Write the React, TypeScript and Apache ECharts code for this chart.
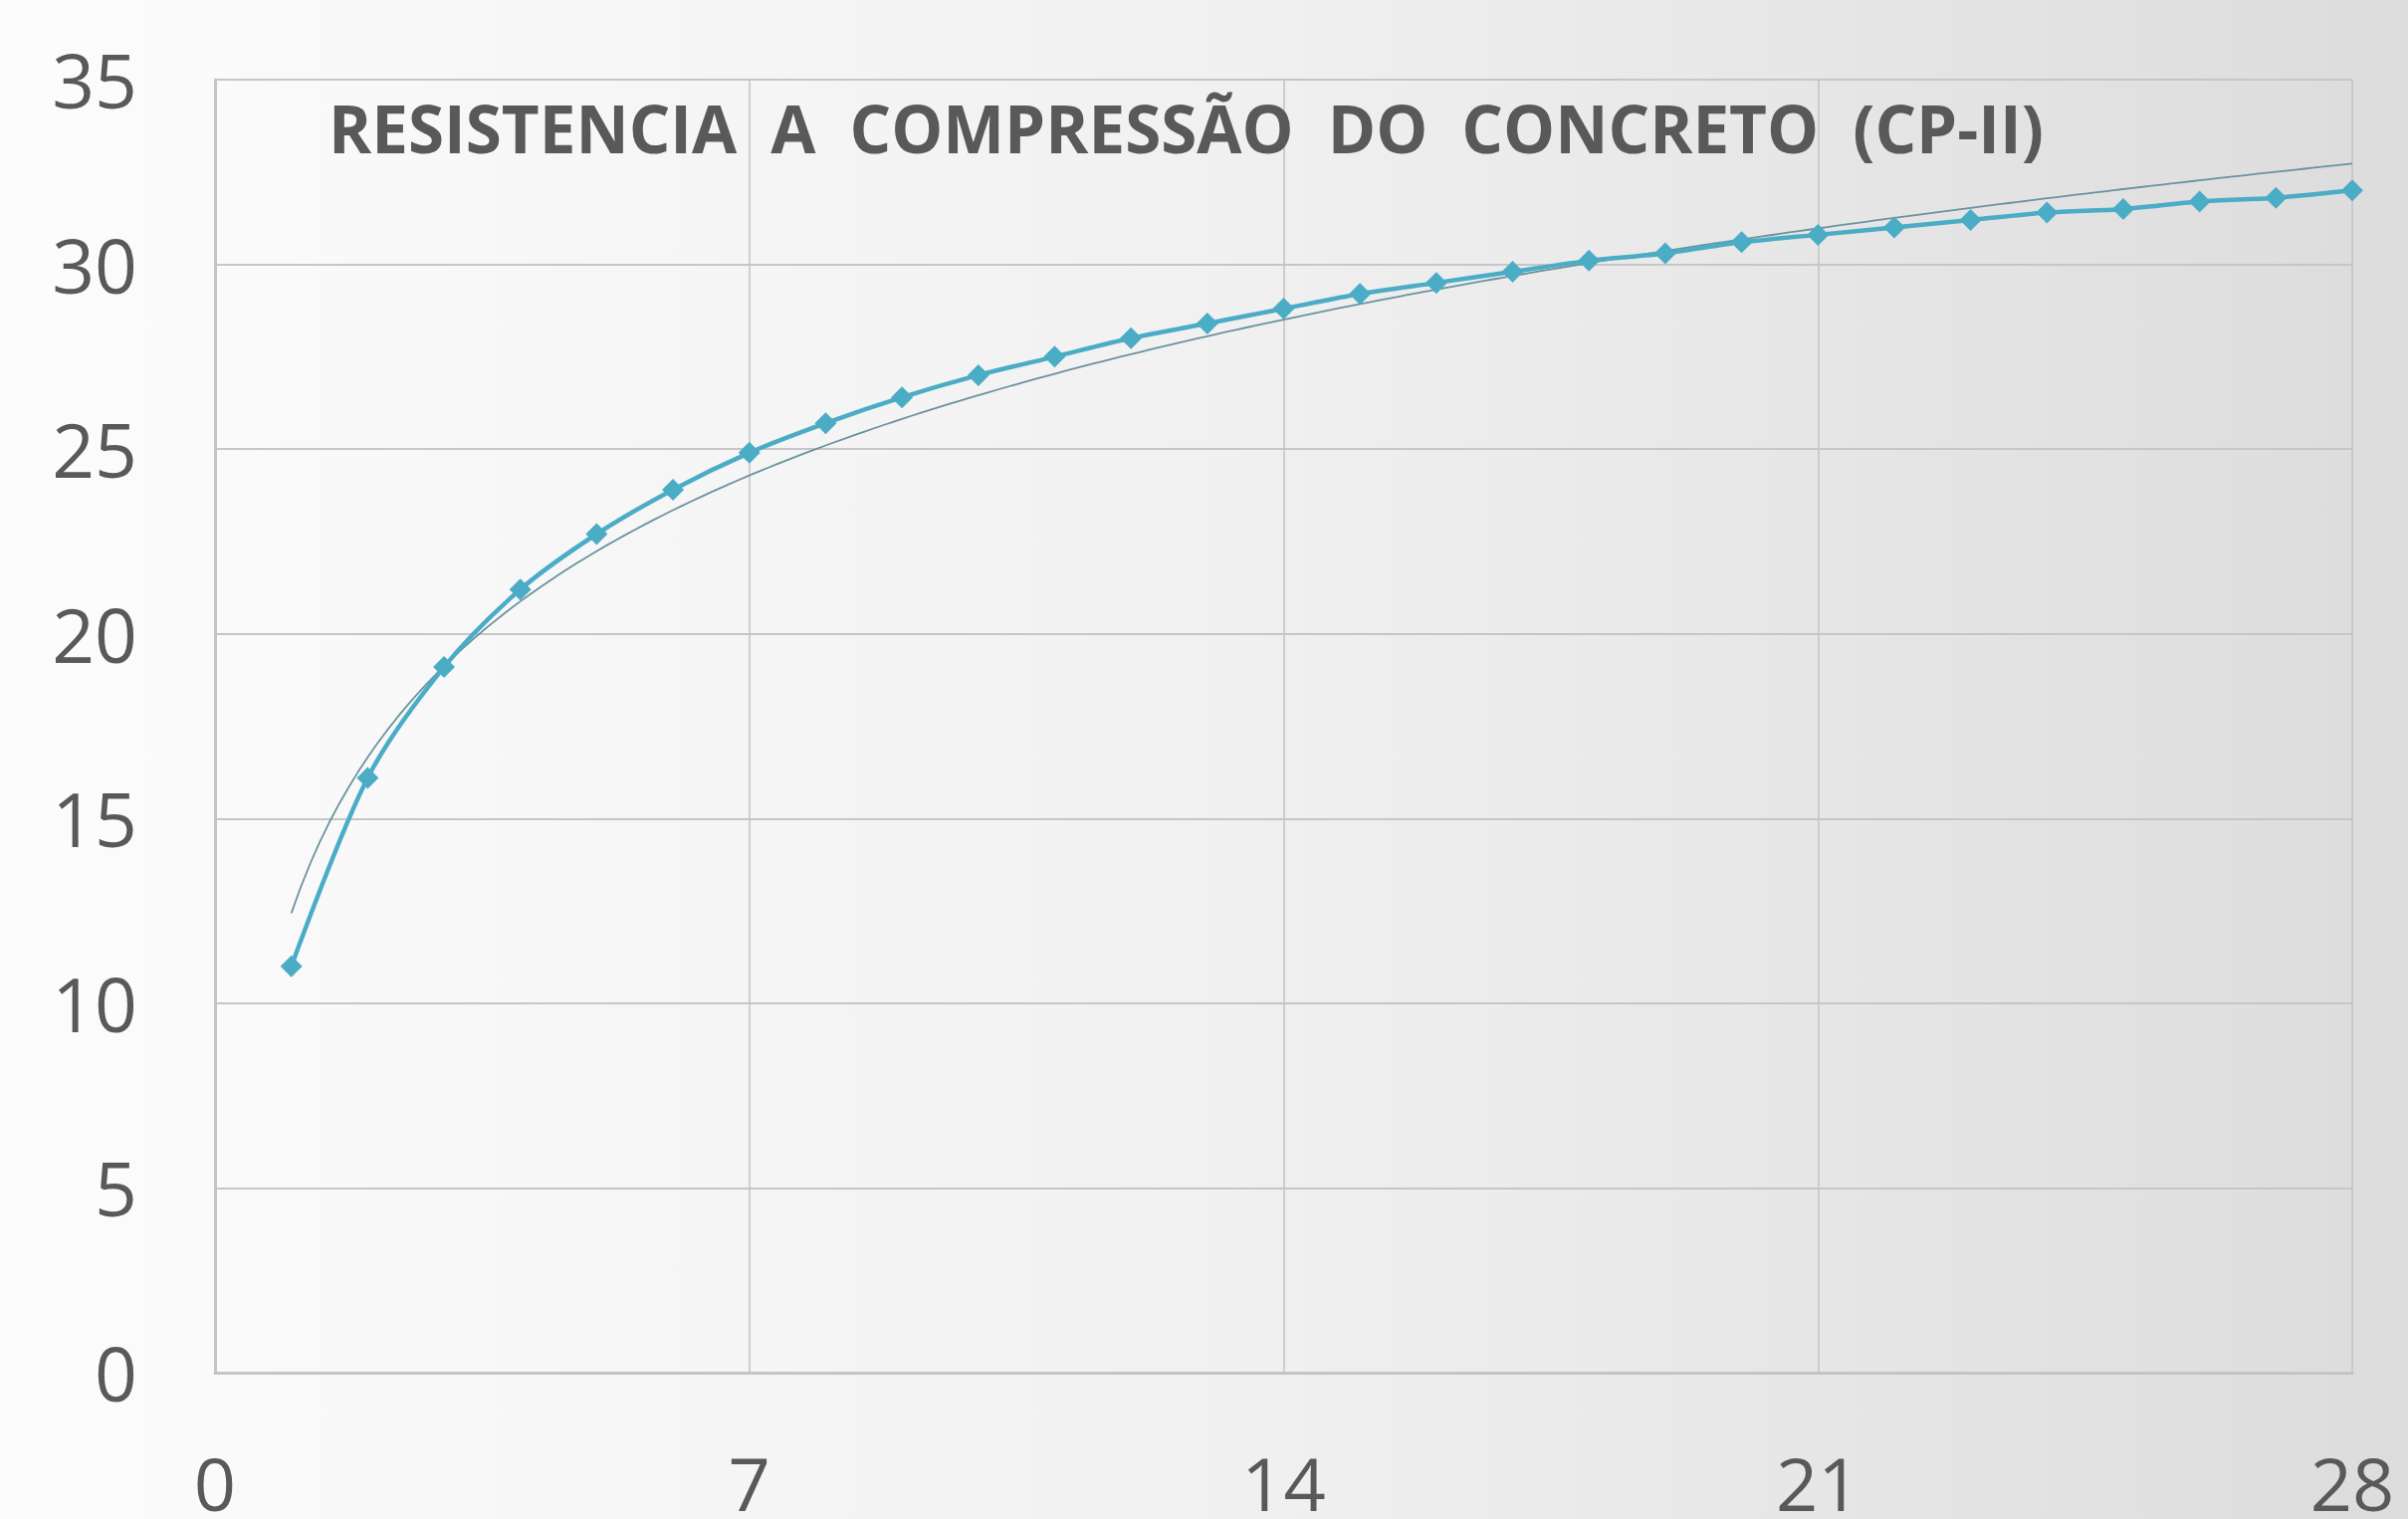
import React, { useEffect, useRef } from "react";
import * as echarts from "echarts";

const titleText = "RESISTENCIA  A  COMPRESSÃO  DO  CONCRETO  (CP-II)";
const days = [1, 2, 3, 4, 5, 6, 7, 8, 9, 10, 11, 12, 13, 14, 15, 16, 17, 18, 19, 20, 21, 22, 23, 24, 25, 26, 27, 28];
const strength = [11.0, 16.1, 19.1, 21.2, 22.7, 23.9, 24.9, 25.7, 26.4, 27.0, 27.5, 28.0, 28.4, 28.8, 29.2, 29.5, 29.8, 30.1, 30.3, 30.6, 30.8, 31.0, 31.2, 31.4, 31.5, 31.7, 31.8, 32.0];
const xTicks = [0, 7, 14, 21, 28];
const yTicks = [0, 5, 10, 15, 20, 25, 30, 35];

// logarithmic least-squares trendline computed from the data (as the spreadsheet's trendline)
function logFit(xs: number[], ys: number[]) {
  const n = xs.length;
  const lx = xs.map((x) => Math.log(x));
  const mx = lx.reduce((a, b) => a + b, 0) / n;
  const my = ys.reduce((a, b) => a + b, 0) / n;
  let sxy = 0, sxx = 0;
  for (let i = 0; i < n; i++) {
    sxy += (lx[i] - mx) * (ys[i] - my);
    sxx += (lx[i] - mx) * (lx[i] - mx);
  }
  const b = sxy / sxx;
  const a = my - b * mx;
  return (x: number) => a + b * Math.log(x);
}

export default function App() {
  const ref = useRef<HTMLDivElement>(null);
  useEffect(() => {
    if (!ref.current) return;
    const chart = echarts.init(ref.current, undefined, { renderer: "svg" });
    const f = logFit(days, strength);
    const trend: number[][] = [];
    const first = days[0];
    const last = days[days.length - 1];
    const steps = 216;
    for (let i = 0; i <= steps; i++) {
      const x = first + ((last - first) * i) / steps;
      trend.push([x, f(x)]);
    }
    const font = "'Open Sans', 'Liberation Sans', sans-serif";
    chart.setOption({
      animation: false,
      backgroundColor: {
        type: "linear",
        x: 0, y: 0, x2: 1, y2: 0,
        colorStops: [
          { offset: 0, color: "#fcfcfc" },
          { offset: 0.5, color: "#f1f1f1" },
          { offset: 1, color: "#dcdcdc" },
        ],
      },
      title: {
        text: titleText,
        left: 325,
        top: 90,
        textStyle: { fontFamily: font, fontSize: 65.5, fontWeight: "bold", color: "#595959" },
      },
      grid: { left: 216, right: 56, top: 80, bottom: 145, containLabel: false },
      xAxis: {
        type: "value",
        min: xTicks[0],
        max: xTicks[xTicks.length - 1],
        interval: 7,
        axisLine: { show: true, lineStyle: { color: "#c4c4c4", width: 3 } },
        axisTick: { show: false },
        axisLabel: { fontFamily: font, fontSize: 74, lineHeight: 56, color: "#595959", margin: 82 },
        splitLine: { show: true, lineStyle: { color: "#c2c2c2", width: 1.5 } },
      },
      yAxis: {
        type: "value",
        min: yTicks[0],
        max: yTicks[yTicks.length - 1],
        interval: 5,
        axisLine: { show: true, lineStyle: { color: "#c4c4c4", width: 3 } },
        axisTick: { show: false },
        axisLabel: { fontFamily: font, fontSize: 75, color: "#595959", margin: 78 },
        splitLine: { show: true, lineStyle: { color: "#c6c6c6", width: 2 } },
      },
      series: [
        {
          name: "Tendência",
          type: "line",
          data: trend,
          showSymbol: false,
          smooth: false,
          lineStyle: { color: "#6a93a0", width: 1.8 },
          z: 2,
        },
        {
          name: "Resistência",
          type: "line",
          data: days.map((d, i) => [d, strength[i]]),
          smooth: 0.3,
          symbol: "diamond",
          symbolSize: [22, 22],
          itemStyle: { color: "#4bacc6" },
          lineStyle: { color: "#4bacc6", width: 4.5 },
          z: 3,
        },
      ],
    });
    return () => chart.dispose();
  }, []);
  return (
    <div
      ref={ref}
      style={{ position: "fixed", left: 0, top: 0, width: 2419, height: 1526 }}
    />
  );
}
